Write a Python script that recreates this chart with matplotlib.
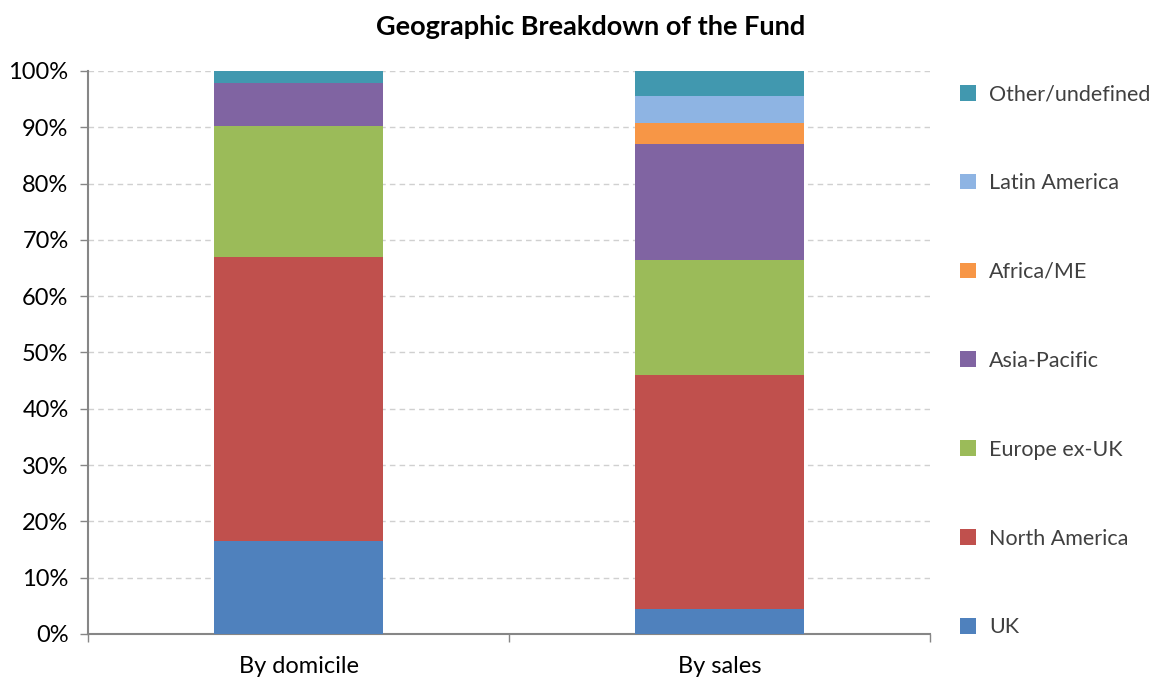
import numpy as np
import matplotlib
matplotlib.use("Agg")
import matplotlib.pyplot as plt
from matplotlib.ticker import PercentFormatter

plt.rcParams['font.family'] = ['Lato', 'DejaVu Sans']

# Values (percent of fund)
categories = ["By domicile", "By sales"]
regions = ["UK", "North America", "Europe ex-UK", "Asia-Pacific",
           "Africa/ME", "Latin America", "Other/undefined"]
uk = [16.5, 4.4]
north_america = [50.5, 41.6]
europe_ex_uk = [23.3, 20.4]
asia_pacific = [7.5, 20.7]
africa_me = [0.0, 3.7]
latin_america = [0.0, 4.7]
other = [2.2, 4.5]

series = [uk, north_america, europe_ex_uk, asia_pacific, africa_me, latin_america, other]
colors = ["#4F81BD", "#C0504D", "#9BBB59", "#8064A2", "#F79646", "#8EB4E3", "#4198AF"]

fig = plt.figure(figsize=(11.64, 6.82), dpi=100)
ax = fig.add_axes([0.0756, 0.0704, 0.7234, 0.8256])

x = np.arange(len(categories))
bottom = np.zeros(len(categories))
handles = []
for name, vals, col in zip(regions, series, colors):
    b = ax.bar(x, vals, width=0.4, bottom=bottom, color=col, label=name, zorder=3)
    handles.append(b)
    bottom += np.array(vals)

ax.set_ylim(0, 100)
ax.set_xlim(-0.5, 1.5)
ax.set_yticks(np.arange(0, 101, 10))
ax.yaxis.set_major_formatter(PercentFormatter(decimals=0))
ax.grid(axis='y', color='#D0D0D0', linestyle=(0, (4, 3)), linewidth=1, zorder=0)

ax.set_xticks(x)
ax.set_xticklabels(categories)
ax.set_xticks([-0.5, 0.5, 1.5], minor=True)
ax.tick_params(axis='x', which='major', length=0, pad=16, labelsize=17)
ax.tick_params(axis='x', which='minor', length=6, color='#868686', width=1)
ax.tick_params(axis='y', length=6, color='#868686', width=1, labelsize=17, pad=8)

for s in ['top', 'right']:
    ax.spines[s].set_visible(False)
for s in ['left', 'bottom']:
    ax.spines[s].set_color('#868686')
    ax.spines[s].set_linewidth(1.5)

fig.suptitle("Geographic Breakdown of the Fund", x=0.507, y=0.978,
             fontsize=19.5, fontweight='bold')

leg = fig.legend(handles[::-1], regions[::-1], loc='upper left',
                 bbox_to_anchor=(0.808, 0.905), frameon=False, fontsize=15.5,
                 handlelength=0.75, handleheight=0.75, handletextpad=0.6,
                 labelspacing=3.2, labelcolor='#404040')

fig.savefig("out.png", dpi=100)
